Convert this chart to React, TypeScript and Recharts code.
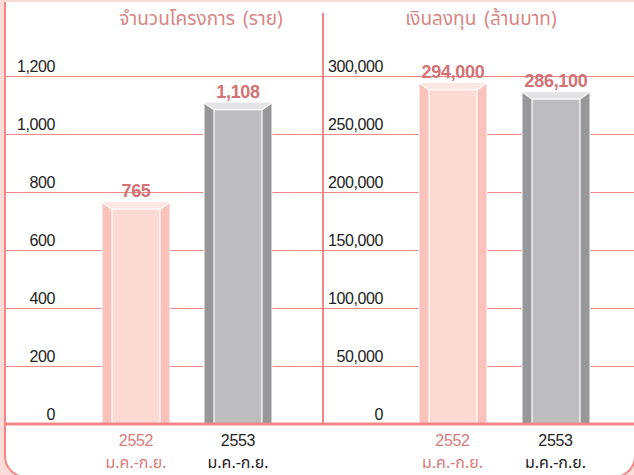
import React from "react";
import { BarChart, Bar, XAxis, YAxis, CartesianGrid, LabelList } from "recharts";

const categories = ["2552", "2553"];
const periodLabel = "ม.ค.-ก.ย.";
const projectCounts = [765, 1108];
const investments = [294000, 286100];
const projectTicks = [0, 200, 400, 600, 800, 1000, 1200];
const investTicks = [0, 50000, 100000, 150000, 200000, 250000, 300000];
const leftTitle = "จำนวนโครงการ (ราย)";
const rightTitle = "เงินลงทุน (ล้านบาท)";

const PINK_LINE = "#f28585";
const LABEL_RED = "#d27274";
const NUM_FONT = "'Liberation Sans', Arial, Helvetica, sans-serif";
const THAI_FONT = "'Noto Sans Thai', 'Noto Sans', 'Liberation Sans', sans-serif";

const palettes = [
  { side: "#f9c2ba", face: "#fcd9d3", top: "#fde7e3", text: "#d97a7a" },
  { side: "#97979a", face: "#bdbdbf", top: "#e4e4e6", text: "#222222" },
];

const leftData = categories.map((c, i) => ({ year: c, value: projectCounts[i] }));
const rightData = categories.map((c, i) => ({ year: c, value: investments[i] }));

const BevelBar = (props: any) => {
  const { x, y, width, height, index } = props;
  if (height <= 0) return null;
  const p = palettes[index % palettes.length];
  const b = 10;
  const t = 7;
  return (
    <g>
      <rect x={x} y={y} width={width} height={height} fill={p.side} stroke="#ffffff" strokeWidth={1} />
      <polygon
        points={`${x},${y} ${x + width},${y} ${x + width - b},${y + t} ${x + b},${y + t}`}
        fill={p.top}
      />
      <rect x={x + b} y={y + t} width={width - 2 * b} height={height - t} fill={p.face} />
      <g stroke="#ffffff" strokeWidth={1.2}>
        <line x1={x + b} y1={y + t} x2={x + b} y2={y + height} />
        <line x1={x + width - b} y1={y + t} x2={x + width - b} y2={y + height} />
        <line x1={x + b} y1={y + t} x2={x + width - b} y2={y + t} />
        <line x1={x} y1={y} x2={x + b} y2={y + t} />
        <line x1={x + width} y1={y} x2={x + width - b} y2={y + t} />
      </g>
    </g>
  );
};

const XTick = (props: any) => {
  const { x, y, payload, index } = props;
  const p = palettes[index % palettes.length];
  return (
    <g>
      <text x={x} y={y + 22} textAnchor="middle" fill={p.text} fontSize={16} fontFamily={NUM_FONT} letterSpacing={-0.3}>
        {payload.value}
      </text>
      <text x={x} y={y + 44} textAnchor="middle" fill={p.text} fontSize={16} fontFamily={THAI_FONT}>
        {periodLabel}
      </text>
    </g>
  );
};

const makeYTick = (labelX: number) => (props: any) => {
  const { y, payload } = props;
  return (
    <text x={labelX} y={y - 4} textAnchor="end" fill="#222222" fontSize={16} fontFamily={NUM_FONT} letterSpacing={-0.4}>
      {Number(payload.value).toLocaleString("en-US")}
    </text>
  );
};

const ValueLabel = (props: any) => {
  const { x, y, width, value } = props;
  return (
    <text
      x={Number(x) + Number(width) / 2}
      y={Number(y) - 5}
      textAnchor="middle"
      fill={LABEL_RED}
      fontSize={18}
      fontWeight="bold"
      fontFamily={NUM_FONT}
      letterSpacing={-0.3}
    >
      {Number(value).toLocaleString("en-US")}
    </text>
  );
};

const Panel = (props: {
  data: any[];
  ticks: number[];
  width: number;
  marginLeft: number;
  padLeft: number;
  padRight: number;
  labelX: number;
}) => {
  const { data, ticks, width, marginLeft, padLeft, padRight, labelX } = props;
  return (
    <BarChart width={width} height={475} data={data} margin={{ top: 76, right: 0, left: marginLeft, bottom: 0 }}>
      <CartesianGrid horizontal vertical={false} stroke={PINK_LINE} strokeWidth={1} shapeRendering="crispEdges" />
      <XAxis
        dataKey="year"
        height={51}
        interval={0}
        axisLine={{ stroke: PINK_LINE, strokeWidth: 3 }}
        tickLine={false}
        tickSize={0}
        tickMargin={0}
        padding={{ left: padLeft, right: padRight }}
        tick={(p: any) => <XTick {...p} />}
      />
      <YAxis
        width={1}
        domain={[0, ticks[ticks.length - 1]]}
        ticks={ticks}
        interval={0}
        axisLine={false}
        tickLine={false}
        tick={makeYTick(labelX)}
      />
      <Bar dataKey="value" barSize={68} shape={BevelBar} isAnimationActive={false}>
        <LabelList dataKey="value" content={ValueLabel} />
      </Bar>
    </BarChart>
  );
};

export default function App() {
  return (
    <div
      style={{
        position: "absolute",
        left: 0,
        top: 0,
        width: 634,
        height: 475,
        overflow: "hidden",
        background: "#fddcd7",
      }}
    >
      <div
        style={{
          position: "absolute",
          left: 4,
          top: 2,
          width: 632,
          height: 476,
          boxSizing: "border-box",
          background: "#ffffff",
          borderLeft: `2px solid ${PINK_LINE}`,
          borderRight: `2px solid ${PINK_LINE}`,
          borderBottom: `2px solid ${PINK_LINE}`,
          borderRadius: "0 0 22px 22px",
        }}
      />
      <div style={{ position: "absolute", left: 0, top: 0 }}>
        <Panel data={leftData} ticks={projectTicks} width={323} marginLeft={4} padLeft={80} padRight={34} labelX={55} />
      </div>
      <div style={{ position: "absolute", left: 322, top: 0 }}>
        <Panel data={rightData} ticks={investTicks} width={312} marginLeft={0} padLeft={78} padRight={27} labelX={61} />
      </div>
      <div style={{ position: "absolute", left: 322, top: 13, width: 2, height: 411, background: PINK_LINE }} />
      <div
        style={{
          position: "absolute",
          left: 0,
          width: 402,
          top: 8,
          textAlign: "center",
          color: "#d98585",
          fontSize: 19,
          fontFamily: THAI_FONT,
          lineHeight: "24px",
          wordSpacing: 3,
        }}
      >
        {leftTitle}
      </div>
      <div
        style={{
          position: "absolute",
          left: 331,
          width: 300,
          top: 8,
          textAlign: "center",
          color: "#d98585",
          fontSize: 19,
          fontFamily: THAI_FONT,
          lineHeight: "24px",
          wordSpacing: 3,
        }}
      >
        {rightTitle}
      </div>
    </div>
  );
}
